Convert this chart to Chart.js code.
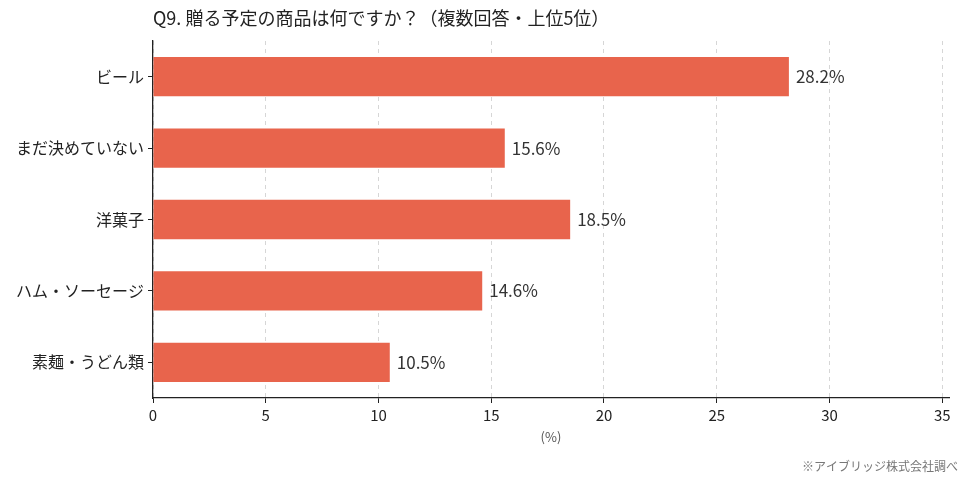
<!DOCTYPE html>
<html lang="ja">
<head>
<meta charset="utf-8">
<script src="https://cdn.jsdelivr.net/npm/chart.js@4"></script>
<style>
  html, body { margin: 0; padding: 0; background: #fff; }
  #wrap { width: 969px; height: 484px; position: relative; }
</style>
</head>
<body>
<div id="wrap"><canvas id="chart"></canvas></div>
<script>
// ── Data ──
const categories = ['ビール', 'まだ決めていない', '洋菓子', 'ハム・ソーセージ', '素麺・うどん類'];
const values = [28.2, 15.6, 18.5, 14.6, 10.5];
const xTicks = [0, 5, 10, 15, 20, 25, 30, 35];

const TITLE = 'Q9. 贈る予定の商品は何ですか？（複数回答・上位5位）';
const X_LABEL = '(%)';
const SOURCE = '※アイブリッジ株式会社調べ';

const FONT = "'Noto Sans CJK JP', 'Noto Sans', sans-serif";
const BAR_COLOR = '#E8644C';

// ── Texts drawn around the plot: title, axis label, source, value labels ──
const textPlugin = {
    id: 'texts',
    afterDatasetsDraw(chart) {
        const ctx = chart.ctx;
        const area = chart.chartArea;
        ctx.save();

        // value labels at bar ends
        ctx.font = '17px ' + FONT;
        ctx.fillStyle = '#333';
        ctx.textAlign = 'left';
        ctx.textBaseline = 'middle';
        chart.getDatasetMeta(0).data.forEach((bar, i) => {
            ctx.fillText(values[i].toFixed(1) + '%', bar.x + 7, bar.y);
        });

        // title
        ctx.font = '18px ' + FONT;
        ctx.fillStyle = '#222';
        ctx.textBaseline = 'middle';
        ctx.fillText(TITLE, area.left, 18);

        // x axis label
        ctx.font = '13px ' + FONT;
        ctx.fillStyle = '#555';
        ctx.textAlign = 'center';
        ctx.fillText(X_LABEL, (area.left + area.right) / 2, 437);

        // source
        ctx.font = '12px ' + FONT;
        ctx.fillStyle = '#777';
        ctx.textAlign = 'right';
        ctx.fillText(SOURCE, 958, 466);

        ctx.restore();
    }
};

new Chart(document.getElementById('chart'), {
    type: 'bar',
    data: {
        labels: categories,
        datasets: [{
            data: values,
            backgroundColor: BAR_COLOR,
            borderWidth: 0,
            categoryPercentage: 1,
            barPercentage: 0.55
        }]
    },
    options: {
        indexAxis: 'y',
        responsive: true,
        maintainAspectRatio: false,
        animation: false,
        layout: { padding: { top: 41, right: 20, bottom: 26, left: 0 } },
        plugins: {
            legend: { display: false },
            tooltip: { enabled: false }
        },
        scales: {
            x: {
                min: 0,
                max: 35.3,
                afterBuildTicks: (scale) => {
                    scale.ticks = xTicks.map(v => ({ value: v }));
                },
                afterFit: (scale) => { scale.height = 60; },
                grid: {
                    color: '#d6d6d6',
                    lineWidth: 1,
                    drawTicks: true,
                    tickLength: 5,
                    tickColor: '#222',
                    tickBorderDash: []
                },
                border: { display: true, color: '#222', width: 1.3, dash: [4, 4] },
                ticks: {
                    color: '#222',
                    font: { family: FONT, size: 15 },
                    padding: 3,
                    maxRotation: 0
                }
            },
            y: {
                afterFit: (scale) => { scale.width = 153; },
                grid: {
                    drawOnChartArea: false,
                    drawTicks: true,
                    offset: false,
                    tickLength: 5,
                    tickColor: '#222'
                },
                border: { display: true, color: '#222', width: 1.3 },
                ticks: {
                    color: '#222',
                    font: { family: FONT, size: 16 },
                    padding: 4
                }
            }
        }
    },
    plugins: [textPlugin]
});
</script>
</body>
</html>
